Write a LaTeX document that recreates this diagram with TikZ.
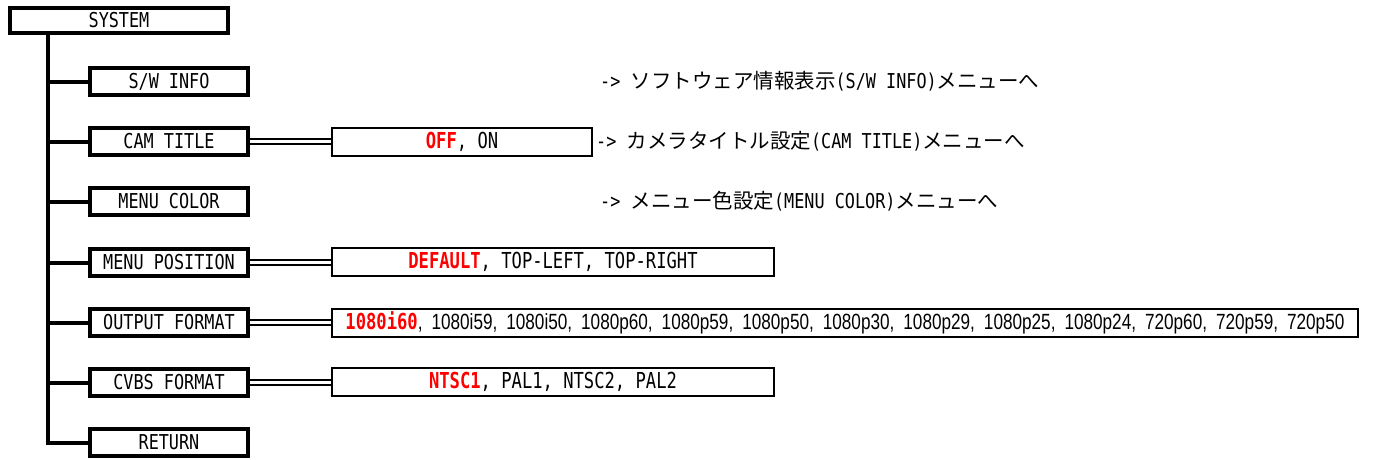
\documentclass[tikz,border=0pt]{standalone}
\usepackage{fontspec}
\newfontfamily\gmono{DejaVu Sans Mono}[FakeStretch=0.82]
\newfontfamily\gmonov{DejaVu Sans Mono}[FakeStretch=0.78]
\newfontfamily\jp{Noto Sans CJK JP}
\newfontfamily\prop{Liberation Sans}[FakeStretch=0.78]
\definecolor{hl}{RGB}{255,0,0}
\newcommand{\cm}{,\hspace{9pt}}
\begin{document}
\begin{tikzpicture}[x=1pt,y=-1pt,
  mainbox/.style={draw, line width=4pt, minimum width=158pt, minimum height=27pt, inner sep=0pt,
    font=\gmono\fontsize{20.5}{24}\selectfont},
  valbox/.style={draw, line width=2pt, minimum height=28pt, inner sep=0pt,
    font=\gmonov\fontsize{22}{26}\selectfont},
  dbl/.style={double, double distance=2.4pt, line width=2pt},
  trunkline/.style={line width=4pt},
  note/.style={anchor=west, inner sep=0pt, font=\fontsize{20.5}{24}\selectfont}]
\useasboundingbox (0,0) rectangle (1373,459);

\node[mainbox, minimum width=218pt, minimum height=25pt] (sys) at (119,20.5) {SYSTEM};
\node[mainbox] (sw)   at (169,81.5)  {S/W INFO};
\node[mainbox] (cam)  at (169,141.5) {CAM TITLE};
\node[mainbox] (mcol) at (169,201.5) {MENU COLOR};
\node[mainbox] (mpos) at (169,262.5) {MENU POSITION};
\node[mainbox] (ofmt) at (169,322.5) {OUTPUT FORMAT};
\node[mainbox] (cvbs) at (169,382.5) {CVBS FORMAT};
\node[mainbox] (ret)  at (169,442.5) {RETURN};

\coordinate (tx) at (48,0);
\draw[trunkline] (sys.south -| tx) |- (ret.west);
\foreach \b in {sw,cam,mcol,mpos,ofmt,cvbs}
  \draw[trunkline] (tx |- \b.west) -- (\b.west);

\node[valbox, minimum width=260pt] (camv) at (462,142) {{\color{hl}\bfseries OFF}, ON};
\node[valbox, minimum width=442pt] (mposv) at (553,262) {{\color{hl}\bfseries DEFAULT}, TOP-LEFT, TOP-RIGHT};
\node[valbox, minimum width=1026pt] (ofmtv) at (845,323) {{\color{hl}\bfseries 1080i60}\prop\fontsize{22}{26}\selectfont\cm 1080i59\cm 1080i50\cm 1080p60\cm 1080p59\cm 1080p50\cm 1080p30\cm 1080p29\cm 1080p25\cm 1080p24\cm 720p60\cm 720p59\cm 720p50};
\node[valbox, minimum width=442pt] (cvbsv) at (553,382) {{\color{hl}\bfseries NTSC1}, PAL1, NTSC2, PAL2};

\draw[dbl] (cam.east) -- (cam.east -| camv.west);
\draw[dbl] (mpos.east) -- (mpos.east -| mposv.west);
\draw[dbl] (ofmt.east) -- (ofmt.east -| ofmtv.west);
\draw[dbl] (cvbs.east) -- (cvbs.east -| cvbsv.west);

\node[note] (swn) at (600,81.5) {\gmono-> \jp ソフトウェア情報表示\gmono(S/W INFO)\jp メニューへ};
\node[note] (camn) at (596,141.5) {\gmono-> \jp カメラタイトル設定\gmono(CAM TITLE)\jp メニューへ};
\node[note] (mcoln) at (600,201.5) {\gmono-> \jp メニュー色設定\gmono(MENU COLOR)\jp メニューへ};
\end{tikzpicture}
\end{document}
